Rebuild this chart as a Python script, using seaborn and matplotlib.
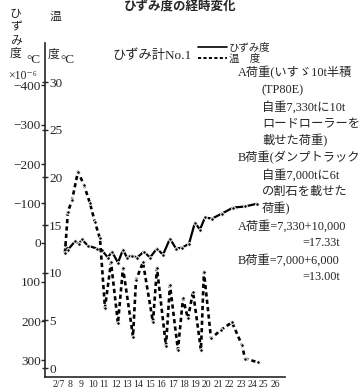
import matplotlib
matplotlib.use("Agg")
import matplotlib.pyplot as plt
from matplotlib.lines import Line2D
from matplotlib.ticker import MultipleLocator
import pandas as pd
import seaborn as sns

# ひずみ計No.1 : ひずみ度 (x10^-6), 2月の日付
STRAIN_DAY = [7.56, 7.82, 8.44, 8.79, 9.05, 9.58, 10.37, 10.81, 11.33, 11.68,
              12.21, 12.65, 13.0, 13.44, 13.88, 14.49, 15.02, 15.63, 16.16,
              16.77, 17.3, 17.82, 18.44, 18.96, 19.4, 19.84, 20.46, 21.33,
              22.3, 23.35, 24.4]
STRAIN = [5, 18, -3, 3, -8, 8, 15, 20, 38, 23, 51, 18, 38, 33, 38, 23, 38,
          15, 31, -10, 15, 13, 3, -51, -33, -64, -61, -74, -89, -92, -99]

# 温度 (°C)
TEMP_DAY = [7.56, 7.82, 8.18, 8.70, 9.23, 9.75, 10.19, 10.63, 11.07, 11.60,
            12.21, 12.65, 13.53, 13.79, 14.40, 15.28, 15.63, 16.42, 16.77,
            17.47, 17.91, 18.35, 18.79, 19.49, 19.75, 20.37, 21.25, 22.21,
            23.09, 23.35, 24.49]
TEMP = [12.1, 16.4, 17.6, 20.6, 19.2, 17.3, 15.3, 13.6, 6.3, 11.1, 4.7, 10.5,
        3.3, 9.2, 11.1, 4.8, 10.5, 2.3, 8.7, 1.9, 7.3, 5.2, 8.0, 1.9, 10.1,
        3.1, 4.0, 4.8, 2.4, 1.0, 0.6]

DAY_TICKS = list(range(7, 27))
DAY_LABELS = ["2/7"] + [str(d) for d in range(8, 27)]
STRAIN_TICKS = [-400, -300, -200, -100, 0, 100, 200, 300]
STRAIN_LABELS = ["−400", "−300", "−200", "−100", "0", "100", "200", "300"]
TEMP_TICKS = [0, 5, 10, 15, 20, 25, 30]

NOTE_LINES = [
    ("A荷重(いすゞ10t半積", 0),
    ("(TP80E)", 1),
    ("自重7,330tに10t", 1),
    ("ロードローラーを", 1),
    ("載せた荷重)", 1),
    ("B荷重(ダンプトラック", 0),
    ("自重7,000tに6t", 1),
    ("の割石を載せた", 1),
    ("荷重)", 1),
    ("A荷重=7,330+10,000", 0),
    ("=17.33t", 2),
    ("B荷重=7,000+6,000", 0),
    ("=13.00t", 2),
]

sns.set_style("white")
FAMILY = ["Liberation Serif", "Noto Sans CJK JP", "DejaVu Sans"]
plt.rcParams["font.family"] = FAMILY
plt.rcParams["axes.unicode_minus"] = False

W, H = 360, 392
fig = plt.figure(figsize=(W / 100, H / 100), dpi=100)


def px(x, y):
    return x / W, 1 - y / H


ax = fig.add_axes([45 / W, 1 - 377 / H, 240 / W, 334 / H])
ax2 = ax.twinx()

strain_df = pd.DataFrame({"day": STRAIN_DAY, "strain": STRAIN})
temp_df = pd.DataFrame({"day": TEMP_DAY, "temp": TEMP})

DASH = (0, (1.6, 1.2))

sns.lineplot(data=strain_df, x="day", y="strain", ax=ax, color="black",
             linewidth=1.6, marker="o", markersize=2.6, sort=False,
             estimator=None)
sns.lineplot(data=temp_df, x="day", y="temp", ax=ax2, color="black",
             linewidth=1.9, marker="o", markersize=2.6, sort=False,
             estimator=None, dashes=False, linestyle=DASH)

ax.set_xlim(5.81, 26.86)
ax.set_ylim(342, -508)
ax2.set_ylim(-0.94, 34.1)

ax.set_xticks(DAY_TICKS, labels=DAY_LABELS)
ax.xaxis.set_minor_locator(MultipleLocator(0.5))
ax.set_yticks(STRAIN_TICKS, labels=STRAIN_LABELS)
ax2.set_yticks(TEMP_TICKS, labels=[str(t) for t in TEMP_TICKS])

for s in ["top", "right"]:
    ax.spines[s].set_visible(False)
for s in ["top", "left", "bottom", "right"]:
    ax2.spines[s].set_visible(False)
ax2.spines["right"].set_position(("axes", 0))
ax.spines["left"].set_linewidth(1.2)
ax.spines["bottom"].set_linewidth(1.2)

ax.tick_params(axis="x", which="major", direction="in", length=3, width=1,
               labelsize=7, pad=2)
ax.tick_params(axis="x", which="minor", direction="in", length=1.5, width=0.8)
ax.tick_params(axis="y", direction="out", length=3, width=1, labelsize=9.5,
               pad=0)
ax2.tick_params(axis="y", direction="inout", length=4, width=1,
                labelsize=9.5, pad=1)
ax.set_xlabel("")
ax.set_ylabel("")
ax2.set_ylabel("")

# 軸の見出し
fig.text(*px(16, 8), "ひ\nず\nみ\n度", fontsize=8.5, ha="center", va="top",
         linespacing=1.15)
fig.text(*px(26, 60), "°C", fontsize=9.5, ha="left", va="center")
fig.text(*px(55, 17), "温", fontsize=8.5, ha="center", va="center")
fig.text(*px(48, 55), "度", fontsize=8.5, ha="left", va="center")
fig.text(*px(60, 60), "°C", fontsize=9.5, ha="left", va="center")
fig.text(*px(22, 76), "×10⁻⁶", fontsize=8.5, ha="center", va="center")

# タイトル（原図では上端で切れている）
fig.text(*px(180, 6), "ひずみ度の経時変化", fontsize=9, ha="center",
         va="center", fontweight="bold")

# 凡例
fig.text(*px(113, 56), "ひずみ計No.1", fontsize=9.5, ha="left", va="center")
handles = [Line2D([], [], color="black", linewidth=1.2),
           Line2D([], [], color="black", linewidth=1.4, linestyle=DASH)]
fig.legend(handles, ["ひずみ度", "温　度"], loc="upper left",
           bbox_to_anchor=px(198, 43), frameon=False, fontsize=7.5,
           handlelength=2.8, handletextpad=0.2, labelspacing=0.05,
           borderpad=0, borderaxespad=0)

# 荷重の説明
indent = {0: 238, 1: 262, 2: 302}
for i, (line, lv) in enumerate(NOTE_LINES):
    fig.text(*px(indent[lv], 73 + i * 17), line, fontsize=8.8,
             ha="left", va="center")

fig.savefig("out.png", dpi=100)
